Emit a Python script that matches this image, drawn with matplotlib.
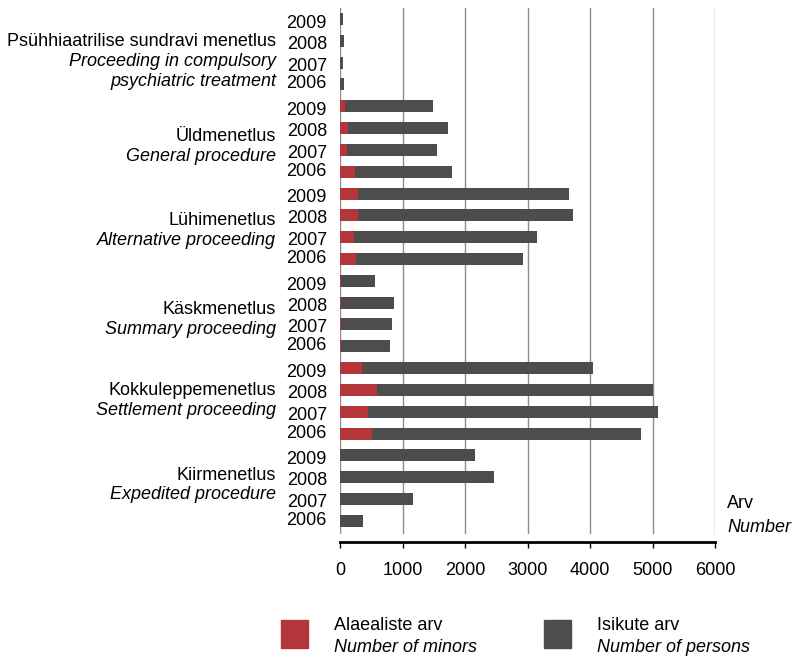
import matplotlib.pyplot as plt
import numpy as np

plt.rcParams['font.family'] = ['Liberation Sans', 'DejaVu Sans']

# groups from top to bottom, years 2009..2006 within each group
groups_et = ["Psühhiaatrilise sundravi menetlus", "Üldmenetlus", "Lühimenetlus",
             "Käskmenetlus", "Kokkuleppemenetlus", "Kiirmenetlus"]
groups_en = [["Proceeding in compulsory", "psychiatric treatment"],
             ["General procedure"], ["Alternative proceeding"],
             ["Summary proceeding"], ["Settlement proceeding"],
             ["Expedited procedure"]]
years = ["2009", "2008", "2007", "2006"]

persons = [43, 59, 43, 59,
           1485, 1725, 1550, 1790,
           3670, 3730, 3150, 2930,
           560, 865, 835, 800,
           4050, 5010, 5090, 4820,
           2160, 2465, 1170, 365]
minors = [4, 0, 0, 0,
          80, 128, 112, 240,
          288, 288, 224, 256,
          20, 18, 20, 18,
          352, 592, 448, 512,
          3, 0, 3, 3]

red = "#b2363a"
dark = "#4d4d4d"

fig = plt.figure(figsize=(7.94, 6.58), dpi=100)
W, H = 794, 658
ax = fig.add_axes([340 / W, 1 - 534 / H, 375 / W, 526 / H])

y = np.arange(len(persons))
ax.barh(y, persons, height=0.55, color=dark, zorder=2)
ax.barh(y, minors, height=0.55, color=red, zorder=3)

ax.set_xlim(0, 6000)
ax.set_ylim(23.6, -0.5)
ax.set_xticks(np.arange(0, 6001, 1000))
ax.grid(axis='x', color='#8c8c8c', linewidth=1.0, zorder=0)
ax.set_axisbelow(True)

for s in ['top', 'right', 'left']:
    ax.spines[s].set_visible(False)
ax.spines['bottom'].set_position(('outward', 6))
ax.spines['bottom'].set_linewidth(2.0)
ax.tick_params(axis='x', direction='out', length=4.5, width=1.0, pad=10, labelsize=13)
ax.tick_params(axis='y', left=False, labelleft=False)

# year labels (small nudges as in the original layout)
year_nudge = [0.2, 0.16, 0.16, -0.02]
for i in range(len(persons)):
    ax.text(-0.035, i + year_nudge[i % 4], years[i % 4], transform=ax.get_yaxis_transform(),
            ha='right', va='center', fontsize=13)

# group labels, centre offsets in bar units
group_nudge = [0.45, 0.35, 0.2, 0.27, -0.02, -0.14]
for g in range(len(groups_et)):
    c = 4 * g + 1.5 + group_nudge[g]
    lines = [(groups_et[g], 'normal')] + [(t, 'italic') for t in groups_en[g]]
    n = len(lines)
    for k, (t, st) in enumerate(lines):
        yy = c + (k - (n - 1) / 2) * 0.9
        ax.text(-0.17, yy, t, transform=ax.get_yaxis_transform(),
                ha='right', va='center', fontsize=13, style=st)

fig.text(727 / W, 1 - 504 / H, "Arv", ha='left', va='center', fontsize=13)
fig.text(727 / W, 1 - 527 / H, "Number", ha='left', va='center', fontsize=13, style='italic')

# legend
fig.patches.append(plt.Rectangle((281 / W, 1 - 648 / H), 27 / W, 28 / H,
                                 transform=fig.transFigure, color=red))
fig.patches.append(plt.Rectangle((544 / W, 1 - 648 / H), 27 / W, 28 / H,
                                 transform=fig.transFigure, color=dark))
fig.text(334 / W, 1 - 626 / H, "Alaealiste arv", ha='left', va='center', fontsize=13)
fig.text(334 / W, 1 - 648 / H, "Number of minors", ha='left', va='center', fontsize=13, style='italic')
fig.text(597 / W, 1 - 626 / H, "Isikute arv", ha='left', va='center', fontsize=13)
fig.text(597 / W, 1 - 648 / H, "Number of persons", ha='left', va='center', fontsize=13, style='italic')

fig.savefig("out.png", dpi=100)
